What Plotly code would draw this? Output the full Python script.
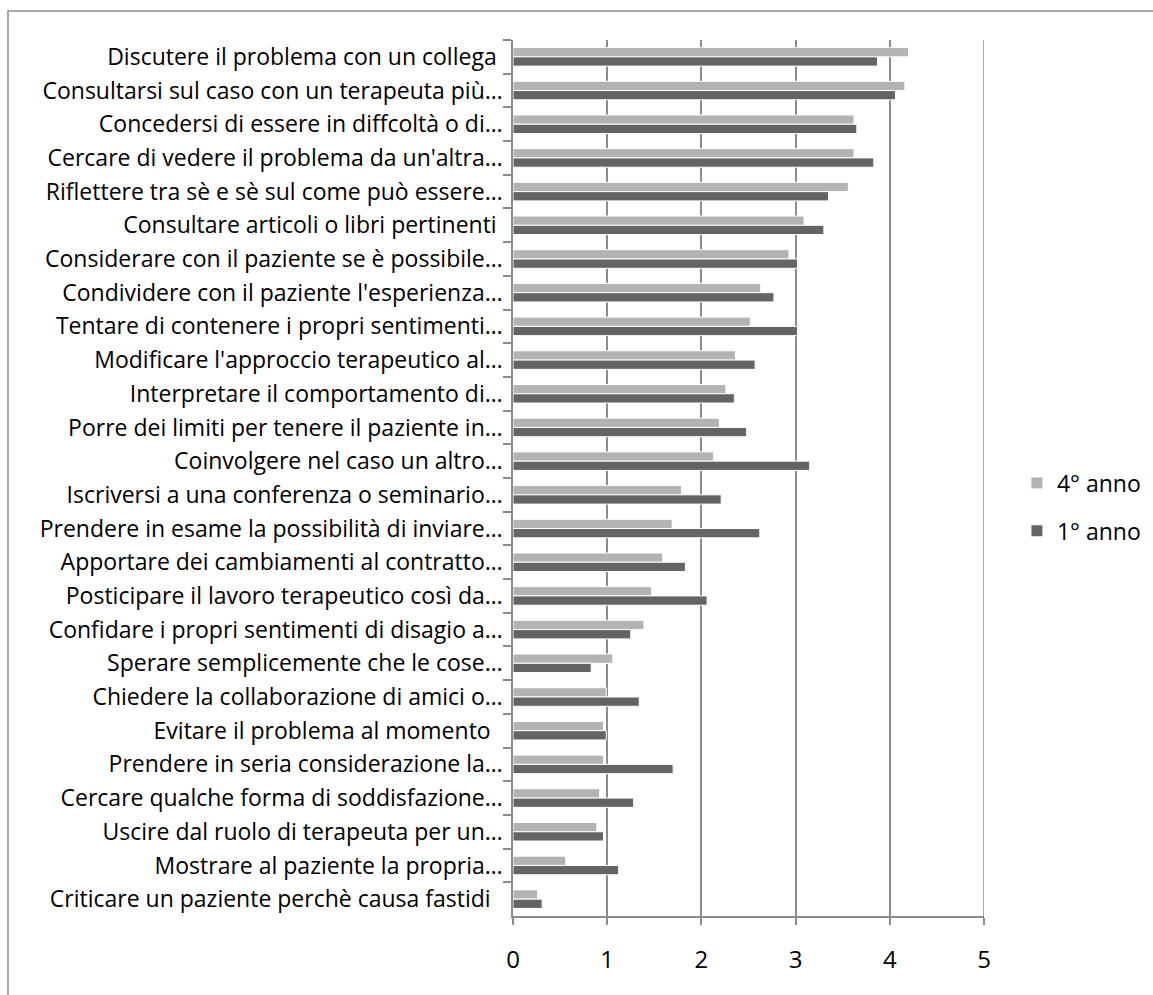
import plotly.graph_objects as go

# Strategie di coping: punteggio medio per anno di corso (dall'alto verso il basso)
categories = [
    "Discutere il problema con un collega\u00a0",
    "Consultarsi sul caso con un terapeuta più…",
    "Concedersi di essere in diffcoltà o di…",
    "Cercare di vedere il problema da un'altra…",
    "Riflettere tra sè e sè sul come può essere…",
    "Consultare articoli o libri pertinenti\u00a0",
    "Considerare con il paziente se è possibile…",
    "Condividere con il paziente l'esperienza…",
    "Tentare di contenere i propri sentimenti…",
    "Modificare l'approccio terapeutico al…",
    "Interpretare il comportamento di…",
    "Porre dei limiti per tenere il paziente in…",
    "Coinvolgere nel caso un altro…",
    "Iscriversi a una conferenza o seminario…",
    "Prendere in esame la possibilità di inviare…",
    "Apportare dei cambiamenti al contratto…",
    "Posticipare il lavoro terapeutico così da…",
    "Confidare i propri sentimenti di disagio a…",
    "Sperare semplicemente che le cose…",
    "Chiedere la collaborazione di amici o…",
    "Evitare il problema al momento\u00a0\u00a0",
    "Prendere in seria considerazione la…",
    "Cercare qualche forma di soddisfazione…",
    "Uscire dal ruolo di terapeuta per un…",
    "Mostrare al paziente la propria…",
    "Criticare un paziente perchè causa fastidi\u00a0\u00a0",
]

anno_4 = [4.20, 4.16, 3.62, 3.62, 3.56, 3.09, 2.93, 2.63, 2.52, 2.36, 2.26, 2.19, 2.13,
          1.79, 1.69, 1.59, 1.47, 1.39, 1.06, 0.99, 0.96, 0.96, 0.92, 0.89, 0.56, 0.26]
anno_1 = [3.87, 4.06, 3.65, 3.83, 3.35, 3.30, 3.02, 2.77, 3.02, 2.57, 2.35, 2.48, 3.15,
          2.21, 2.62, 1.83, 2.06, 1.25, 0.83, 1.34, 0.99, 1.70, 1.28, 0.96, 1.12, 0.31]

series_names = ["4° anno", "1° anno"]
series_colors = ["#b3b3b3", "#646464"]
x_ticks = [0, 1, 2, 3, 4, 5]

FONT = "Open Sans, Calibri, sans-serif"
GRID = "#8c8c8c"
X_MAX = 5

fig = go.Figure()
for name, values, color in zip(series_names, [anno_4, anno_1], series_colors):
    fig.add_trace(go.Bar(
        y=categories, x=values, name=name, orientation="h",
        marker=dict(color=color, line=dict(color="white", width=1)),
        legendgroup=name,
    ))

fig.update_layout(
    width=1153, height=995,
    margin=dict(l=513, r=169, t=40, b=79),
    paper_bgcolor="white", plot_bgcolor="white",
    barmode="group", bargap=0.45, bargroupgap=0.0,
    font=dict(family=FONT, size=23, color="black"),
    showlegend=True,
    legend=dict(xref="container", yref="container", x=0.882, y=0.4905,
                xanchor="left", yanchor="middle",
                font=dict(family=FONT, size=23), tracegroupgap=15,
                traceorder="grouped", itemwidth=30),
    xaxis=dict(range=[0, X_MAX], tickvals=x_ticks, ticktext=[str(t) for t in x_ticks],
               showgrid=True, gridcolor=GRID, gridwidth=1.5, zeroline=False,
               showline=True, linecolor=GRID, linewidth=1.5,
               ticks="outside", ticklen=7, tickcolor=GRID, tickwidth=1.5,
               ticklabelstandoff=14, tickfont=dict(family=FONT, size=24)),
    yaxis=dict(autorange="reversed", type="category",
               showgrid=False, zeroline=False,
               showline=True, linecolor=GRID, linewidth=1.5,
               ticks="outside", tickson="boundaries", ticklen=8,
               tickcolor=GRID, tickwidth=1.5, ticklabelstandoff=4,
               tickfont=dict(family=FONT, size=23)),
    shapes=[
        # gridline at the upper end of the value axis
        dict(type="line", xref="x", yref="paper", x0=X_MAX, x1=X_MAX, y0=0, y1=1,
             line=dict(color=GRID, width=1.5), layer="below"),
        # chart area frame
        dict(type="rect", xref="paper", yref="paper",
             x0=-1.0722, x1=1.40, y0=-0.12, y1=1.0331,
             line=dict(color=GRID, width=1.5), layer="above"),
    ],
)

fig.write_html("out.html")
